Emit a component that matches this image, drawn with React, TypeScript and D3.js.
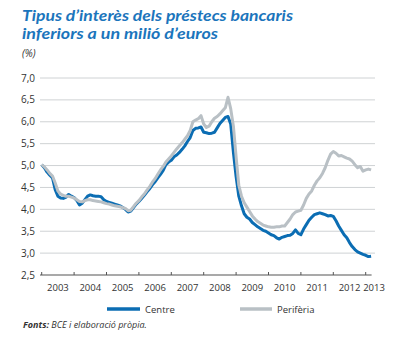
import React from "react";
import * as d3 from "d3";

// Monthly data, Jan 2003 .. Mar 2013
const startYear = 2003;
const centre: number[] = [
  5.02, 4.95, 4.85, 4.78, 4.72, 4.45, 4.3, 4.26, 4.25, 4.28, 4.34, 4.3,
  4.27, 4.2, 4.1, 4.14, 4.22, 4.3, 4.33, 4.31, 4.3, 4.3, 4.29, 4.22,
  4.18, 4.16, 4.14, 4.12, 4.1, 4.08, 4.04, 4.0, 3.94, 3.96, 4.04, 4.12,
  4.18, 4.25, 4.32, 4.4, 4.47, 4.56, 4.63, 4.72, 4.8, 4.89, 5.02, 5.08,
  5.12, 5.2, 5.24, 5.3, 5.37, 5.45, 5.55, 5.64, 5.8, 5.85, 5.86, 5.88,
  5.76, 5.75, 5.73, 5.74, 5.76, 5.86, 5.96, 6.03, 6.1, 6.12, 5.95, 5.3,
  4.75, 4.3, 4.08, 3.9, 3.82, 3.78, 3.7, 3.65, 3.6, 3.56, 3.52, 3.5,
  3.46, 3.42, 3.4, 3.35, 3.32, 3.36, 3.38, 3.4, 3.41, 3.45, 3.53, 3.45,
  3.42, 3.55, 3.65, 3.75, 3.82, 3.88, 3.9, 3.92, 3.9, 3.88, 3.85, 3.86,
  3.84, 3.74, 3.62, 3.52, 3.42, 3.35, 3.24, 3.15, 3.08, 3.03, 3.0, 2.97,
  2.95, 2.92, 2.93,
];
const periferia: number[] = [
  5.02, 4.97, 4.9, 4.82, 4.76, 4.6, 4.42, 4.35, 4.32, 4.3, 4.3, 4.28,
  4.26, 4.22, 4.18, 4.17, 4.2, 4.22, 4.22, 4.2, 4.19, 4.18, 4.17, 4.15,
  4.13, 4.12, 4.1, 4.08, 4.07, 4.06, 4.04, 4.02, 3.97, 3.98, 4.06, 4.14,
  4.2, 4.28, 4.35, 4.44, 4.52, 4.62, 4.7, 4.8, 4.9, 4.98, 5.08, 5.15,
  5.22, 5.3, 5.38, 5.45, 5.52, 5.6, 5.68, 5.8, 6.0, 6.04, 6.07, 6.14,
  5.95, 5.87, 5.9, 6.0, 6.08, 6.12, 6.18, 6.25, 6.32, 6.56, 6.3, 5.9,
  5.2, 4.55, 4.3, 4.15, 4.05, 3.95, 3.85, 3.78, 3.72, 3.68, 3.64, 3.62,
  3.6, 3.59, 3.59, 3.6, 3.6, 3.62, 3.62, 3.7, 3.78, 3.88, 3.94, 3.96,
  3.98, 4.1, 4.25, 4.35, 4.42, 4.55, 4.65, 4.72, 4.82, 4.95, 5.12, 5.26,
  5.32, 5.28, 5.22, 5.23, 5.2, 5.17, 5.15, 5.1, 5.02, 4.95, 4.98, 4.87,
  4.9, 4.92, 4.9,
];
const yearLabels: string[] = [
  "2003", "2004", "2005", "2006", "2007", "2008", "2009", "2010", "2011", "2012", "2013",
];
const yTicks: number[] = [2.5, 3.0, 3.5, 4.0, 4.5, 5.0, 5.5, 6.0, 6.5, 7.0];
const seriesNames: string[] = ["Centre", "Perifèria"];

const BLUE = "#0b6db3";
const GREY = "#b9c0c5";
const TITLE_BLUE = "#1b75bc";
const FONT = "'Open Sans', 'DejaVu Sans', sans-serif";
const TITLE_FONT = "Lato, 'Open Sans', sans-serif";

export default function App() {
  const x = d3.scaleLinear().domain([0, 120]).range([41.7, 365.7]);
  const y = d3.scaleLinear().domain([2.5, 7.0]).range([275, 78]);
  const line = d3
    .line<number>()
    .x((_, i) => x(i))
    .y((d) => y(d))
    .curve(d3.curveLinear);

  const fmt = (v: number) => v.toFixed(1).replace(".", ",");
  const axisEnd = x(centre.length - 1) + 0.5;

  return (
    <svg
      width={398}
      height={338}
      style={{ position: "absolute", left: 0, top: 0, background: "#fff" }}
    >
      {/* Title */}
      <text
        x={22}
        y={21}
        fill={TITLE_BLUE}
        fontFamily={TITLE_FONT}
        fontWeight={700}
        fontStyle="italic"
        fontSize={15}
        textLength={271}
        lengthAdjust="spacingAndGlyphs"
      >
        Tipus d’interès dels préstecs bancaris
      </text>
      <text
        x={22}
        y={39}
        fill={TITLE_BLUE}
        fontFamily={TITLE_FONT}
        fontWeight={700}
        fontStyle="italic"
        fontSize={15}
        textLength={196}
        lengthAdjust="spacingAndGlyphs"
      >
        inferiors a un milió d’euros
      </text>
      <text x={22} y={57} fill="#333" fontFamily={FONT} fontStyle="italic" fontSize={10}>
        (%)
      </text>

      {/* Gridlines and y labels */}
      {yTicks.map((t) => (
        <g key={t}>
          {t > 2.5 && (
            <line x1={40} x2={375} y1={y(t)} y2={y(t)} stroke="#cfd2d4" strokeWidth={1} />
          )}
          <text
            x={35}
            y={y(t) + 3.6}
            textAnchor="end"
            fill="#333"
            fontFamily={FONT}
            fontSize={10}
          >
            {fmt(t)}
          </text>
        </g>
      ))}

      {/* X axis */}
      <line x1={40} x2={axisEnd} y1={y(2.5)} y2={y(2.5)} stroke="#555" strokeWidth={1.2} />
      {yearLabels.map((lab, i) => (
        <g key={lab}>
          <line
            x1={x(i * 12)}
            x2={x(i * 12)}
            y1={y(2.5) - 3}
            y2={y(2.5)}
            stroke="#555"
            strokeWidth={1}
          />
          <text
            x={Math.min(x(i * 12 + 6), 374)}
            y={291}
            textAnchor="middle"
            fill="#333"
            fontFamily={FONT}
            fontSize={9.5}
          >
            {lab}
          </text>
        </g>
      ))}

      {/* Lines */}
      <path d={line(centre) || ""} fill="none" stroke={BLUE} strokeWidth={3} strokeLinejoin="round" />
      <path d={line(periferia) || ""} fill="none" stroke={GREY} strokeWidth={3} strokeLinejoin="round" />

      {/* Legend */}
      <line x1={107} x2={140} y1={309} y2={309} stroke={BLUE} strokeWidth={3.5} />
      <text x={145} y={312.5} fill="#333" fontFamily={FONT} fontSize={9.5}>
        {seriesNames[0]}
      </text>
      <line x1={240} x2={272} y1={309} y2={309} stroke={GREY} strokeWidth={3.5} />
      <text x={277} y={312.5} fill="#333" fontFamily={FONT} fontSize={9.5}>
        {seriesNames[1]}
      </text>

      {/* Footer */}
      <text x={23} y={328} fill="#333" fontFamily={FONT} fontSize={9} fontStyle="italic">
        <tspan fontWeight={700}>Fonts:</tspan>
        <tspan> BCE i elaboració pròpia.</tspan>
      </text>
    </svg>
  );
}
